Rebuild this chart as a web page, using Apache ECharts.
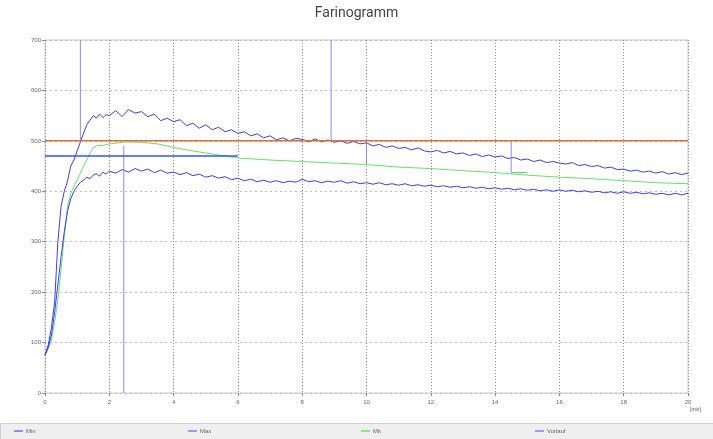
<!DOCTYPE html>
<html><head><meta charset="utf-8">
<script src="https://cdn.jsdelivr.net/npm/echarts@6/dist/echarts.min.js"></script>
<style>html,body{margin:0;padding:0;background:#fff}#c{width:713px;height:439px}</style>
</head><body><div id="c"></div>
<script>
var timeNoisy = [0,0.1,0.2,0.3,0.4,0.5,0.6,0.7,0.8,0.9,1.0,1.1,1.2,1.3,1.4,1.5,1.6,1.7,1.8,1.9,2.0,
2.2,2.4,2.6,2.8,3.0,3.2,3.4,3.6,3.8,4.0,4.2,4.4,4.6,4.8,5.0,5.2,5.4,5.6,5.8,6.0,
6.2,6.4,6.6,6.8,7.0,7.2,7.4,7.6,7.8,8.0,8.2,8.4,8.6,8.8,9.0,9.2,9.4,9.6,9.8,10.0,
10.2,10.4,10.6,10.8,11.0,11.2,11.4,11.6,11.8,12.0,12.2,12.4,12.6,12.8,13.0,13.2,13.4,13.6,13.8,14.0,
14.2,14.4,14.6,14.8,15.0,15.2,15.4,15.6,15.8,16.0,16.2,16.4,16.6,16.8,17.0,17.2,17.4,17.6,17.8,18.0,
18.2,18.4,18.6,18.8,19.0,19.2,19.4,19.6,19.8,20.0];
var maxValues = [75,95,130,180,300,370,400,420,450,462,480,498,515,532,541,550,545,553,546,552,550,
560,548,562,555,558,548,553,540,545,538,542,530,535,525,532,522,527,518,522,515,
518,510,514,506,510,502,506,500,505,503,498,504,498,502,497,500,495,499,494,496,
490,493,487,490,485,487,482,486,480,478,481,476,479,474,476,471,474,469,472,468,
470,465,467,462,464,459,462,457,459,456,454,457,451,453,449,451,446,448,443,444,
440,442,438,440,436,439,434,437,433,436];
var minValues = [75,90,115,160,215,270,320,360,385,400,410,418,422,428,425,432,435,430,438,434,440,
436,443,438,445,440,444,437,442,436,438,433,437,431,434,428,431,426,429,423,426,
421,424,419,422,418,421,417,420,418,424,419,421,417,420,418,421,416,419,415,417,
414,417,413,415,412,415,411,413,410,412,409,411,408,410,407,409,406,408,405,407,
404,406,403,405,402,404,401,403,400,403,400,402,399,401,398,400,397,399,396,399,
396,398,395,397,394,396,393,396,393,396];
var timeMit = [0,0.1,0.2,0.3,0.4,0.5,0.6,0.7,0.8,0.9,1.0,1.2,1.3,1.4,1.5,1.6,1.8,2.0,2.5,3.0,3.5,4.0,4.5,5.0,5.5,6.0,7.0,8.0,9.0,10.0,11.0,12.0,13.0,14.0,15.0,16.0,17.0,18.0,19.0,20.0];
var mitValues = [75,88,105,140,185,245,310,370,395,410,422,450,462,475,486,490,491,494,498,497,494,487,481,476,471,466,462,459,456,453,448,445,441,437,432,428,425,421,417,415];
var xTicks = [0,2,4,6,8,10,12,14,16,18,20];
var yTicks = [0,100,200,300,400,500,600,700];
var referenceLevel = 500;
var vorlaufLine = [[1.1,500],[1.1,700]];
var markerLines = [
  [[2.45,0],[2.45,490]],
  [[8.9,500],[8.9,700]],
  [[10,496],[10,455]],
  [[14.5,500],[14.5,437]]
];
var blueLevel = [[0,470],[6,470]];
var greenMark = [[14.5,437],[15,437]];
var legendNames = ['Min','Max','Mit','Vorlauf'];

function zip(t,v){return t.map(function(x,i){return [x,v[i]];});}
var chart = echarts.init(document.getElementById('c'));
var series = [
  {name:'Min',type:'line',data:zip(timeNoisy,minValues),symbol:'none',lineStyle:{color:'#3b3bf0',width:1},itemStyle:{color:'#8c8cff'},z:3},
  {name:'Max',type:'line',data:zip(timeNoisy,maxValues),symbol:'none',lineStyle:{color:'#3b3bf0',width:1},itemStyle:{color:'#9a9aff'},z:3},
  {name:'Mit',type:'line',data:zip(timeMit,mitValues),symbol:'none',lineStyle:{color:'#66e066',width:1},itemStyle:{color:'#7ef07e'},z:2},
  {name:'Vorlauf',type:'line',data:vorlaufLine,symbol:'none',lineStyle:{color:'#8888ff',width:1},itemStyle:{color:'#9a9aff'},z:4},
  {type:'line',data:[[0,referenceLevel],[20,referenceLevel]],symbol:'none',lineStyle:{color:'#e07030',width:1.5},z:5,silent:true},
  {type:'line',data:blueLevel,symbol:'none',lineStyle:{color:'#3050ff',width:1.5},z:5,silent:true},
  {type:'line',data:greenMark,symbol:'none',lineStyle:{color:'#55d055',width:1},z:5,silent:true}
];
markerLines.forEach(function(m){
  series.push({type:'line',data:m,symbol:'none',lineStyle:{color:'#8888ff',width:1},z:4,silent:true});
});
var legendLefts = [14,188,361,535];
var legends = legendNames.map(function(n,i){
  return {data:[n],left:legendLefts[i],top:428,itemWidth:9,itemHeight:2,icon:'rect',itemGap:4,padding:0,
    textStyle:{fontSize:6,color:'#666',padding:[0,0,0,-2]}};
});
chart.setOption({
  animation:false,
  title:{text:'Farinogramm',left:'center',top:1,textStyle:{fontSize:14,fontWeight:'normal',color:'#444',fontFamily:'Roboto'}},
  legend:legends,
  grid:{left:45,right:25,top:40,bottom:46,show:true,borderColor:'#c8c8c8',borderWidth:1},
  xAxis:{type:'value',min:0,max:20,interval:2,
    axisLine:{show:false},
    axisTick:{show:true,length:3,lineStyle:{color:'#888'}},
    axisLabel:{fontSize:6,color:'#666',margin:6},
    splitLine:{show:true,lineStyle:{color:'#8a8a8a',type:[1,2],width:1}}},
  yAxis:{type:'value',min:0,max:700,interval:100,
    axisLine:{show:false},
    axisTick:{show:true,length:3,lineStyle:{color:'#888'}},
    axisLabel:{fontSize:6,color:'#666',margin:4},
    splitLine:{show:true,lineStyle:{color:'#bdbdbd',type:[2,3],width:1}}},
  graphic:[
    {type:'rect',left:0,top:423,shape:{width:713,height:16},style:{fill:'#efefef',stroke:'#cfcfcf',lineWidth:1},z:-1},
    {type:'text',left:690,top:407,style:{text:'[min]',fontSize:5,fill:'#555'}}
  ],
  series:series
});
</script></body></html>
